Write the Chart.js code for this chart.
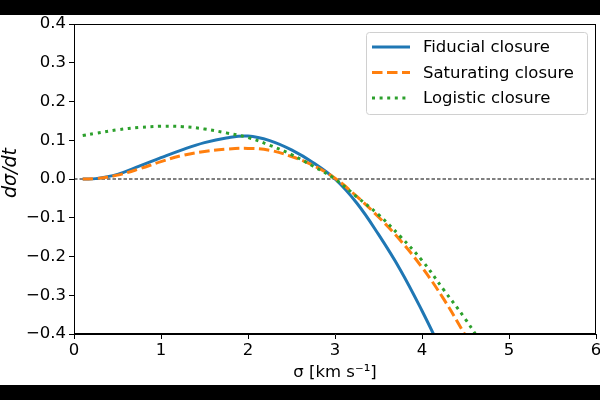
<!DOCTYPE html>
<html lang="en">
<head>
  <meta charset="UTF-8" />
  <title>dσ/dt closures</title>
  <script src="https://cdn.jsdelivr.net/npm/chart.js"></script>
  <style>
    html, body { margin: 0; padding: 0; background: #000; }
    #wrap {
      position: absolute;
      left: 0;
      top: 15px;
      width: 600px;
      height: 370px;
      background: #fff;
    }
  </style>
</head>
<body>
  <div id="wrap"><canvas id="chart" width="600" height="370"></canvas></div>

  <script>
    // values
    const sigma = [0.1, 0.25, 0.5, 0.75, 1.0, 1.25, 1.5, 1.75, 2.0, 2.25, 2.5, 2.75, 3.0, 3.25, 3.5, 3.75, 4.0, 4.25, 4.5, 4.75];
    const fiducial = [0.0, 0.001, 0.012, 0.033, 0.055, 0.076, 0.094, 0.106, 0.111, 0.099, 0.075, 0.042, 0.0, -0.062, -0.143, -0.234, -0.340, -0.455, null, null];
    const saturating = [0.0, 0.001, 0.010, 0.026, 0.045, 0.061, 0.071, 0.077, 0.079, 0.074, 0.058, 0.035, 0.002, -0.045, -0.098, -0.158, -0.228, -0.310, -0.404, null];
    const logistic = [0.112, 0.118, 0.127, 0.133, 0.136, 0.135, 0.129, 0.119, 0.107, 0.087, 0.063, 0.033, 0.0, -0.046, -0.092, -0.148, -0.210, -0.286, -0.362, -0.447];
    const zeroX = [0, 6];
    const zeroY = [0, 0];

    const seriesNames = ['Fiducial closure', 'Saturating closure', 'Logistic closure'];
    const xTicks = [0, 1, 2, 3, 4, 5, 6];
    const yMin = -0.4, yMax = 0.4, yStep = 0.1;

    const font = '"DejaVu Sans", sans-serif';

    function pts(xs, ys) {
      return xs.map((x, i) => ({ x: x, y: ys[i] }));
    }

    function curve(label, ys, color, dash, order) {
      return {
        label: label,
        data: pts(sigma, ys),
        borderColor: color,
        borderWidth: 3,
        borderDash: dash,
        showLine: true,
        pointRadius: 0,
        tension: 0.4,
        clip: 0,
        order: order
      };
    }

    // frame on the top and right, like the reference box
    const frame = {
      id: 'frame',
      afterDatasetsDraw(chart) {
        const a = chart.chartArea;
        const ctx = chart.ctx;
        ctx.save();
        ctx.strokeStyle = '#000';
        ctx.lineWidth = 1;
        ctx.strokeRect(a.left + 0.5, a.top + 0.5, a.right - a.left - 1, a.bottom - a.top - 1);
        ctx.restore();
      }
    };

    // legend box in the upper right corner
    const legendBox = {
      id: 'legendBox',
      afterDraw(chart) {
        const ctx = chart.ctx;
        const x0 = 366, y0 = 17, w = 221, h = 82;
        ctx.save();
        ctx.fillStyle = 'rgba(255,255,255,0.85)';
        ctx.strokeStyle = '#d0d0d0';
        ctx.lineWidth = 1;
        ctx.beginPath();
        ctx.roundRect(x0 + 0.5, y0 + 0.5, w, h, 3);
        ctx.fill();
        ctx.stroke();
        ctx.font = '16.5px ' + font;
        ctx.textBaseline = 'middle';
        seriesNames.forEach((name, i) => {
          const ds = chart.data.datasets[i + 1];
          const y = y0 + 15 + i * 25.5;
          ctx.beginPath();
          ctx.setLineDash(ds.borderDash || []);
          ctx.strokeStyle = ds.borderColor;
          ctx.lineWidth = ds.borderWidth;
          ctx.moveTo(x0 + 6, y);
          ctx.lineTo(x0 + 44, y);
          ctx.stroke();
          ctx.setLineDash([]);
          ctx.fillStyle = '#000';
          ctx.fillText(name, x0 + 57, y + 1);
        });
        ctx.restore();
      }
    };

    const ctx = document.getElementById('chart').getContext('2d');
    new Chart(ctx, {
      type: 'scatter',
      data: {
        datasets: [
          {
            label: 'zero',
            data: pts(zeroX, zeroY),
            borderColor: '#000',
            borderWidth: 1,
            borderDash: [3.5, 2],
            showLine: true,
            pointRadius: 0,
            order: 4
          },
          curve(seriesNames[0], fiducial, '#1f77b4', [], 3),
          curve(seriesNames[1], saturating, '#ff7f0e', [10.5, 4.5], 2),
          curve(seriesNames[2], logistic, '#2ca02c', [3, 4.6], 1)
        ]
      },
      options: {
        responsive: false,
        animation: false,
        layout: { padding: { top: 9, right: 4, left: 0, bottom: 0 } },
        plugins: {
          legend: { display: false },
          tooltip: { enabled: false }
        },
        scales: {
          x: {
            type: 'linear',
            min: xTicks[0],
            max: xTicks[xTicks.length - 1],
            afterFit: s => { s.height = 51; s.paddingLeft = 0; s.paddingRight = 0; },
            afterBuildTicks: s => { s.ticks = xTicks.map(v => ({ value: v })); },
            grid: { drawOnChartArea: false, tickLength: 5, color: '#000' },
            border: { color: '#000' },
            ticks: {
              padding: 2,
              color: '#000',
              font: { family: font, size: 16.5 },
              callback: v => String(v)
            },
            title: {
              display: true,
              text: 'σ [km s⁻¹]',
              color: '#000',
              font: { family: font, size: 16.5 },
              padding: { top: 0, bottom: 2 }
            }
          },
          y: {
            min: yMin,
            max: yMax,
            afterFit: s => { s.width = 74; s.paddingTop = 0; s.paddingBottom = 0; },
            grid: { drawOnChartArea: false, tickLength: 5, color: '#000' },
            border: { color: '#000' },
            ticks: {
              stepSize: yStep,
              padding: 3,
              color: '#000',
              font: { family: font, size: 16.5 },
              callback: v => Math.abs(v) < 1e-9 ? '0.0' : v.toFixed(1).replace('-', '\u2212')
            },
            title: {
              display: true,
              text: '  dσ/dt',
              color: '#000',
              font: { family: font, size: 19, style: 'italic' },
              padding: { top: 0, bottom: 0 }
            }
          }
        }
      },
      plugins: [frame, legendBox]
    });
  </script>
</body>
</html>
